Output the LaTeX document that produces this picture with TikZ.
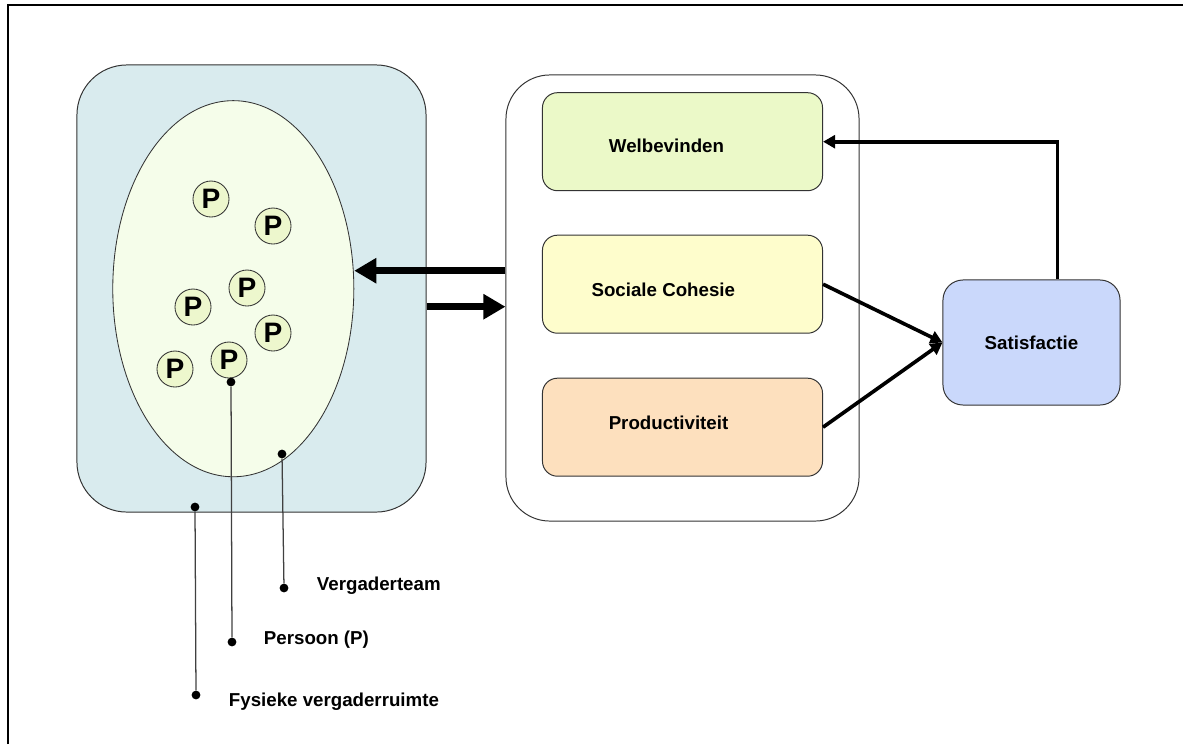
\documentclass[tikz,border=0pt]{standalone}
\usepackage{fontspec}
\setmainfont{Liberation Sans}
\usetikzlibrary{arrows.meta,shapes.geometric}
\definecolor{roomfill}{HTML}{D9EBEE}
\definecolor{teamfill}{HTML}{F5FDEA}
\definecolor{persfill}{HTML}{EDF7CD}
\definecolor{welfill}{HTML}{EBF9C8}
\definecolor{cohfill}{HTML}{FEFDCC}
\definecolor{prodfill}{HTML}{FDE0BE}
\definecolor{satfill}{HTML}{CAD8FB}

\begin{document}
\begin{tikzpicture}[x=0.025cm,y=-0.025cm,
        box/.style={draw=black!80,line width=0.7pt,rounded corners=0.375cm,minimum width=7cm,minimum height=2.45cm},
        boxtext/.style={font=\fontsize{13.3}{15}\selectfont\bfseries},
        pers/.style={circle,draw=black!80,line width=0.6pt,fill=persfill,minimum size=0.9cm,inner sep=0pt,font=\fontsize{20}{20}\selectfont\bfseries},
        blob/.style={circle,fill=black,minimum size=0.22cm,inner sep=0pt},
        lead/.style={draw=black!75,line width=0.9pt},
        lbl/.style={anchor=base west,font=\fontsize{13.3}{15}\selectfont\bfseries},
        bigarrow/.style={line width=5pt,-{Triangle[length=0.55cm,width=0.6cm]}},
        thinarrow/.style={line width=2.6pt,-{Triangle[length=0.3cm,width=0.32cm]}}]
    \useasboundingbox (0,0) rectangle (1183,744);
    \draw[line width=1.4pt] (8,744) -- (8,5) -- (1183,5);

    % ruimte, team en personen
    \node[draw=black!80,line width=0.7pt,fill=roomfill,rounded corners=1.25cm,minimum width=8.725cm,minimum height=11.175cm] (room) at (251.5,288.5) {};
    \node[ellipse,draw=black!80,line width=0.6pt,fill=teamfill,minimum width=6.025cm,minimum height=9.4cm,inner sep=0pt] (team) at (233.3,288.7) {};
    \foreach \px/\py [count=\i] in {211/199,273/226,247/288,193/307,273/333,229/360,175/369}
        \node[pers] (p\i) at (\px,\py) {P};

    % uitkomsten
    \node[draw=black!80,line width=0.7pt,rounded corners=1.1cm,minimum width=8.825cm,minimum height=11.15cm] (outcomes) at (682.5,298) {};
    \node[box,fill=welfill,label={[boxtext,xshift=-0.4cm,yshift=-0.1cm]center:Welbevinden}] (wel) at (682.5,141.7) {};
    \node[box,fill=cohfill,label={[boxtext,xshift=-0.48cm,yshift=-0.15cm]center:Sociale Cohesie}] (coh) at (682.5,284.2) {};
    \node[box,fill=prodfill,label={[boxtext,xshift=-0.35cm,yshift=0.1cm]center:Productiviteit}] (prod) at (682.5,427.2) {};
    \node[box,fill=satfill,boxtext,rounded corners=0.5cm,minimum width=4.425cm,minimum height=3.125cm] (sat) at (1031.5,342.5) {Satisfactie};

    \draw[bigarrow] (outcomes.west |- 0,270.7) -- (team.east |- 0,270.7);
    \draw[bigarrow] (room.east |- 0,306.7) -- (outcomes.west |- 0,306.7);
    \draw[thinarrow] (coh.east) -- (sat.west);
    \draw[thinarrow] (prod.east) -- (sat.west);
    \draw[thinarrow] ([xshift=0.65cm]sat.north) |- (wel.east);

    % legenda
    \node[blob] (teamA) at (282,454) {};
    \node[blob] (teamB) at (284,588) {};
    \node[blob] (persA) at (231,382) {};
    \node[blob] (persB) at (232,642) {};
    \node[blob] (roomA) at (195,507) {};
    \node[blob] (roomB) at (196,695) {};
    \draw[lead] (teamA) -- (teamB);
    \draw[lead] (persA) -- (persB);
    \draw[lead] (roomA) -- (roomB);
    \node[lbl] (teamlbl) at (312,590) {Vergaderteam};
    \node[lbl] (perslbl) at (259,644) {Persoon (P)};
    \node[lbl] (roomlbl) at (224,706) {Fysieke vergaderruimte};
\end{tikzpicture}
\end{document}
